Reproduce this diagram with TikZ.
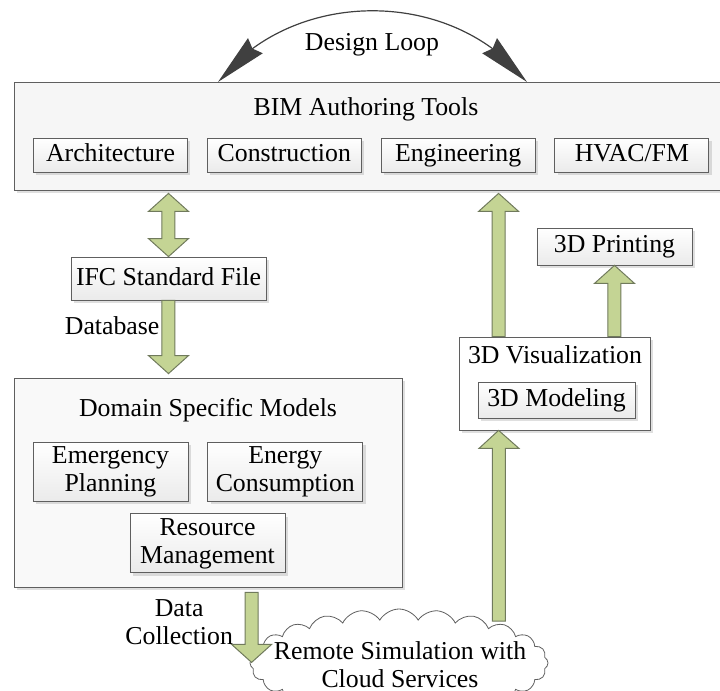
\documentclass[tikz,border=0pt]{standalone}
\usepackage{fontspec}
\setmainfont{Liberation Serif}
\usepackage{tikz}
\usepackage{xcolor}
\usetikzlibrary{positioning, calc, shapes.symbols, shadows, arrows.meta, bending}

\definecolor{arrowfill}{RGB}{196,212,148}
\definecolor{arrowedge}{RGB}{112,122,92}
\definecolor{boxedge}{RGB}{95,95,95}

\tikzset{
    boxshadow/.style={drop shadow={shadow xshift=1.5pt, shadow yshift=-1.5pt, opacity=0.25}},
    bigbox/.style={rectangle, draw=boxedge, fill=gray!7, boxshadow},
    subbox/.style={rectangle, draw=boxedge, top color=white, bottom color=gray!16, align=center, inner sep=2pt, text depth=0.22em, boxshadow},
    garrow/.style={fill=arrowfill, draw=arrowedge, line width=0.5pt},
    looptip/.tip={Stealth[length=26pt, width=10.5pt, inset=2pt, flex]}
}

\newcommand{\blockarrow}[2]{%
    \filldraw[garrow] let \p1=(#1), \p2=(#2), \p3=($(#2)!9pt!(#1)$) in
        (\x1-3.25pt,\y1) -- (\x1-3.25pt,\y3) -- (\x1-10pt,\y3) -- (\x2,\y2)
        -- (\x1+10pt,\y3) -- (\x1+3.25pt,\y3) -- (\x1+3.25pt,\y1) -- cycle;}
\newcommand{\blockdouble}[2]{%
    \filldraw[garrow] let \p1=(#1), \p2=(#2), \p3=($(#2)!9pt!(#1)$), \p4=($(#1)!9pt!(#2)$) in
        (\x1,\y1) -- (\x1+10pt,\y4) -- (\x1+3.25pt,\y4) -- (\x1+3.25pt,\y3) -- (\x1+10pt,\y3) -- (\x2,\y2)
        -- (\x1-10pt,\y3) -- (\x1-3.25pt,\y3) -- (\x1-3.25pt,\y4) -- (\x1-10pt,\y4) -- cycle;}

\begin{document}
\begin{tikzpicture}[x=0.5pt, y=-0.5pt, every node/.style={font=\fontsize{12.9}{14}\selectfont}]
            \useasboundingbox (0,0) rectangle (720,691);

            \node[bigbox, minimum width=353.5pt, minimum height=54pt] (bim) at (367.5,136) {};
            \node (bimtitle) at (366,109) {BIM Authoring Tools};
            \node[subbox, minimum width=77pt, minimum height=17pt] (arch) at (110.5,155) {Architecture};
            \node[subbox, minimum width=77pt, minimum height=17pt, right=9.5pt of arch] (cons) {Construction};
            \node[subbox, minimum width=77pt, minimum height=17pt, right=9.5pt of cons] (eng) {Engineering};
            \node[subbox, minimum width=77pt, minimum height=17pt, right=9.5pt of eng] (hvac) {HVAC/FM};

            \node[subbox, minimum width=97.5pt, minimum height=21.5pt] (ifc) at (168.5,278.5) {IFC Standard File};

            \node[bigbox, fill=gray!5, minimum width=194pt, minimum height=104.5pt] (dsm) at (208,482.5) {};
            \node (dsmtitle) at (208,410) {Domain Specific Models};
            \node[subbox, minimum width=77.5pt, minimum height=29.5pt] (emerg) at (110.5,471.5) {Emergency\\Planning};
            \node[subbox, minimum width=77.5pt, minimum height=29.5pt, right=9.5pt of emerg] (energy) {Energy\\Consumption};
            \node[subbox, minimum width=77.5pt, minimum height=29.5pt] (resource) at (207.5,543) {Resource\\Management};

            \node[bigbox, fill=white, minimum width=95.5pt, minimum height=46.5pt] (viz) at (554.5,383.5) {};
            \node (viztitle) at (555,355) {3D Visualization};
            \node[subbox, minimum width=78.5pt, minimum height=18pt] (model) at (556.5,400) {3D Modeling};
            \node[subbox, minimum width=77.5pt, minimum height=18.5pt] (print) at (614.5,246.5) {3D Printing};

            \node[cloud, cloud puffs=24, cloud puff arc=120, cloud ignores aspect, draw=boxedge, fill=white,
                  minimum width=149pt, minimum height=54pt, inner sep=0pt] (cloud) at (399,663) {};
            \node[align=center] (cloudtext) at (400,665) {Remote Simulation with\\Cloud Services};

            \coordinate (loopL) at (218,82);
            \coordinate (loopR) at (527,82);
            \draw[line width=0.6pt, black!75, looptip-looptip] (loopL) to[bend left=52] (loopR);
            \node (looplabel) at (372,45) {Design Loop};

            \coordinate (bimlow) at ($(ifc.north |- bim.south)+(0,3)$);
            \blockdouble{ifc.north}{bimlow}
            \coordinate (dsmtop) at ($(ifc.south |- dsm.north)+(0,-4)$);
            \blockarrow{ifc.south}{dsmtop}
            \node[anchor=east] (dblabel) at ($(ifc.south)+(-2,25)$) {Database};

            \coordinate (vizup) at ($(viz.north west)+(40,0)$);
            \coordinate (bimlow2) at ($(vizup |- bim.south)+(0,3)$);
            \blockarrow{vizup}{bimlow2}
            \coordinate (vizright) at (print.south |- viz.north);
            \blockarrow{vizright}{print.south}
            \coordinate (cloudtop) at (499,621);
            \coordinate (vizlow) at (vizup |- viz.south);
            \blockarrow{cloudtop}{vizlow}

            \coordinate (dsmlow) at ($(dsm.south west)+(238,5)$);
            \coordinate (cloudleft) at ($(dsmlow)+(0,70)$);
            \blockarrow{dsmlow}{cloudleft}
            \node[align=center, anchor=east] (dclabel) at (240,622) {Data\\Collection};
        \end{tikzpicture}
\end{document}
